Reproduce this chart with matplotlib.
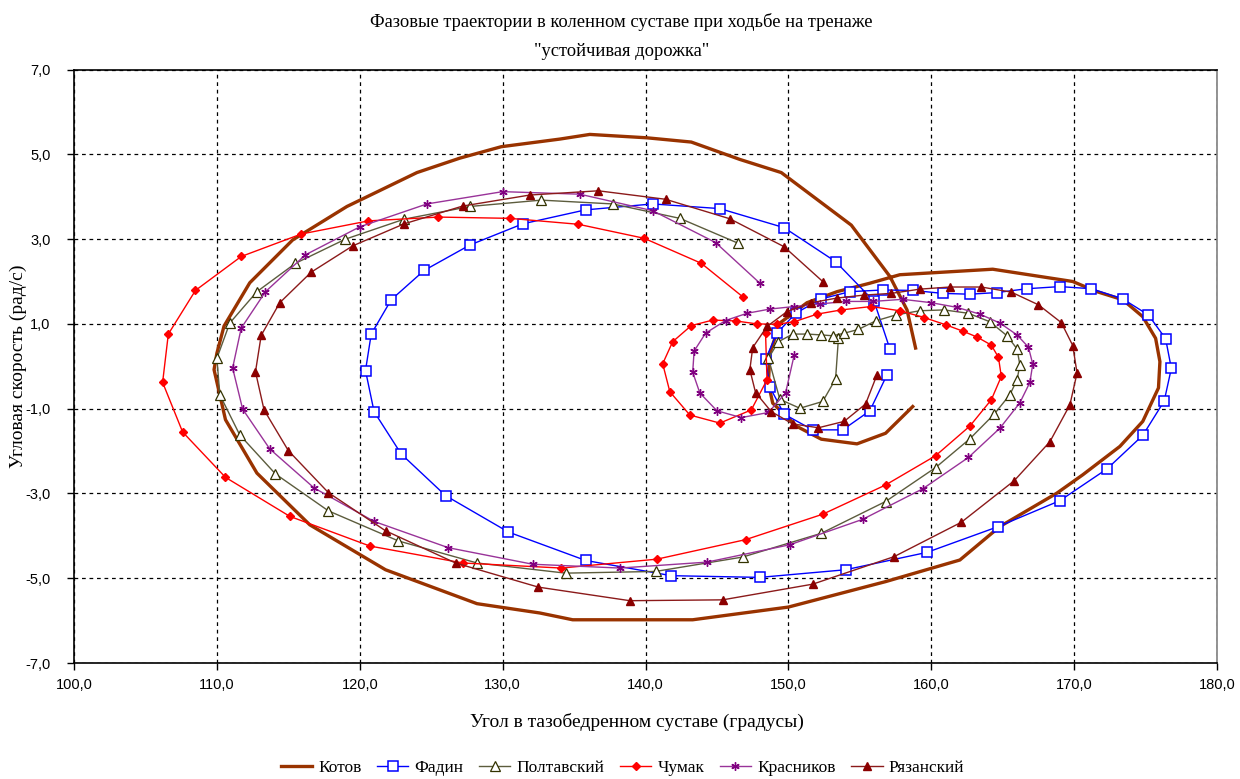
"""
Фазовые траектории в коленном суставе (угол бедра / угловая скорость колена)
"""
import matplotlib
matplotlib.use('Agg')
import matplotlib.pyplot as plt
from matplotlib.ticker import FuncFormatter

# --- данные (угол, градусы / скорость, рад/с) ---
kotov_x = [158.7, 156.8, 154.8, 152.3, 150.6, 148.9, 148.6, 148.7, 149.4, 151.3, 153.4, 155.7,
           157.8, 164.3, 169.9, 171.6, 173.4, 174.8, 175.7, 176.0, 175.9, 174.8, 173.2, 170.6,
           168.8, 164.8, 162.0, 156.8, 150.0, 143.3, 134.9, 132.6, 128.2, 121.8, 116.5, 112.8,
           110.6, 109.8, 110.0, 110.5, 112.3, 115.3, 119.1, 124.0, 127.0, 129.9, 134.0, 136.1,
           140.1, 143.2, 146.6, 149.5, 154.4, 157.1, 158.3, 158.9]
kotov_y = [-0.95, -1.58, -1.83, -1.72, -1.42, -0.87, -0.40, 0.30, 1.02, 1.50, 1.76, 1.96,
           2.16, 2.29, 2.00, 1.76, 1.57, 1.17, 0.66, 0.11, -0.51, -1.30, -1.89, -2.56,
           -2.99, -3.78, -4.57, -5.08, -5.68, -5.98, -5.98, -5.82, -5.60, -4.80, -3.74, -2.52,
           -1.26, -0.08, 0.31, 0.95, 1.97, 2.98, 3.77, 4.57, 4.91, 5.18, 5.36, 5.47,
           5.39, 5.29, 4.88, 4.57, 3.33, 2.12, 1.33, 0.43]

fadin_x = [156.9, 155.7, 153.8, 151.7, 149.7, 148.7, 148.4, 149.2, 150.5, 152.3, 154.3, 156.6,
           158.7, 160.8, 162.7, 164.6, 166.7, 169.0, 171.2, 173.4, 175.2, 176.4, 176.8, 176.3,
           174.8, 172.3, 169.0, 164.7, 159.7, 154.0, 148.0, 141.8, 135.8, 130.4, 126.0, 122.9,
           121.0, 120.4, 120.8, 122.2, 124.5, 127.7, 131.4, 135.8, 140.5, 145.2, 149.7, 153.3,
           156.0, 157.1]
fadin_y = [-0.20, -1.05, -1.50, -1.50, -1.13, -0.49, 0.17, 0.78, 1.25, 1.59, 1.76, 1.80,
           1.79, 1.72, 1.70, 1.74, 1.83, 1.88, 1.83, 1.59, 1.21, 0.65, -0.05, -0.82,
           -1.63, -2.42, -3.17, -3.78, -4.39, -4.80, -4.98, -4.94, -4.58, -3.91, -3.05, -2.07,
           -1.07, -0.10, 0.76, 1.57, 2.26, 2.86, 3.36, 3.69, 3.83, 3.72, 3.27, 2.47,
           1.53, 0.41]

poltavsky_x = [153.5, 153.3, 152.4, 150.8, 149.4, 148.6, 149.3, 150.3, 151.3, 152.3, 153.1, 153.9,
               154.9, 156.1, 157.5, 159.2, 160.9, 162.6, 164.1, 165.3, 166.0, 166.2, 166.0, 165.5,
               164.4, 162.7, 160.3, 156.8, 152.3, 146.8, 140.7, 134.4, 128.2, 122.7, 117.8, 114.1,
               111.6, 110.2, 110.0, 110.9, 112.8, 115.5, 119.0, 123.1, 127.7, 132.7, 137.7, 142.4,
               146.5]
poltavsky_y = [0.66, -0.30, -0.83, -0.99, -0.78, 0.19, 0.58, 0.76, 0.76, 0.74, 0.72, 0.78,
               0.87, 1.07, 1.21, 1.31, 1.33, 1.25, 1.05, 0.72, 0.41, 0.03, -0.32, -0.67,
               -1.13, -1.71, -2.39, -3.19, -3.94, -4.50, -4.84, -4.88, -4.64, -4.12, -3.41, -2.54,
               -1.62, -0.67, 0.19, 1.02, 1.76, 2.43, 3.00, 3.47, 3.77, 3.92, 3.83, 3.49,
               2.90]

chumak_x = [148.4, 148.5, 147.4, 145.2, 143.1, 141.7, 141.2, 141.9, 143.2, 144.7, 146.3, 147.8,
            149.2, 150.4, 152.0, 153.7, 155.8, 157.8, 159.5, 161.0, 162.2, 163.2, 164.2, 164.7,
            164.9, 164.2, 162.7, 160.3, 156.8, 152.4, 147.0, 140.8, 134.1, 127.2, 120.7, 115.1,
            110.6, 107.6, 106.2, 106.6, 108.5, 111.7, 115.9, 120.6, 125.5, 130.5, 135.3, 139.9,
            143.9, 146.8]
chumak_y = [0.78, -0.32, -1.03, -1.34, -1.15, -0.60, 0.06, 0.58, 0.96, 1.09, 1.07, 1.00,
            0.99, 1.05, 1.23, 1.33, 1.41, 1.31, 1.15, 0.98, 0.83, 0.69, 0.50, 0.21,
            -0.24, -0.79, -1.41, -2.11, -2.80, -3.49, -4.09, -4.55, -4.76, -4.64, -4.24, -3.54,
            -2.62, -1.55, -0.38, 0.76, 1.79, 2.59, 3.12, 3.43, 3.52, 3.49, 3.35, 3.02,
            2.43, 1.64]

krasnikov_x = [150.4, 149.8, 148.6, 146.7, 145.0, 143.8, 143.3, 143.4, 144.2, 145.6, 147.1, 148.7,
               150.4, 152.2, 154.0, 155.9, 158.0, 160.0, 161.8, 163.4, 164.8, 166.0, 166.8, 167.1,
               166.9, 166.2, 164.8, 162.6, 159.4, 155.2, 150.1, 144.3, 138.2, 132.1, 126.2, 121.0,
               116.8, 113.7, 111.8, 111.1, 111.7, 113.4, 116.2, 120.0, 124.7, 130.0, 135.4, 140.5,
               144.9, 148.0]
krasnikov_y = [0.26, -0.63, -1.09, -1.21, -1.05, -0.63, -0.14, 0.36, 0.78, 1.08, 1.25, 1.35,
               1.41, 1.47, 1.53, 1.53, 1.58, 1.50, 1.39, 1.23, 1.02, 0.74, 0.45, 0.05,
               -0.38, -0.86, -1.46, -2.15, -2.89, -3.61, -4.21, -4.62, -4.76, -4.67, -4.28, -3.66,
               -2.87, -1.95, -1.01, -0.04, 0.90, 1.76, 2.63, 3.29, 3.83, 4.12, 4.06, 3.67,
               2.92, 1.96]

ryazansky_x = [156.2, 155.4, 153.9, 152.1, 150.3, 148.8, 147.7, 147.3, 147.5, 148.5, 149.9, 151.6,
               153.4, 155.3, 157.2, 159.2, 161.3, 163.5, 165.6, 167.5, 169.1, 169.9, 170.2, 169.7,
               168.3, 165.8, 162.1, 157.4, 151.7, 145.4, 138.9, 132.5, 126.7, 121.8, 117.8, 115.0,
               113.3, 112.7, 113.1, 114.4, 116.6, 119.5, 123.1, 127.2, 131.9, 136.7, 141.4, 145.9,
               149.7, 152.4]
ryazansky_y = [-0.20, -0.89, -1.30, -1.45, -1.36, -1.07, -0.62, -0.08, 0.44, 0.94, 1.29, 1.50,
               1.61, 1.68, 1.72, 1.82, 1.87, 1.87, 1.75, 1.45, 1.03, 0.49, -0.16, -0.91,
               -1.78, -2.70, -3.68, -4.49, -5.14, -5.51, -5.53, -5.21, -4.64, -3.88, -2.98, -1.99,
               -1.03, -0.13, 0.73, 1.50, 2.22, 2.84, 3.36, 3.78, 4.04, 4.14, 3.94, 3.48,
               2.82, 2.00]

names = ['Котов', 'Фадин', 'Полтавский', 'Чумак', 'Красников', 'Рязанский']
series = [(kotov_x, kotov_y), (fadin_x, fadin_y), (poltavsky_x, poltavsky_y),
          (chumak_x, chumak_y), (krasnikov_x, krasnikov_y), (ryazansky_x, ryazansky_y)]

# стиль линий в духе Excel
styles = [
    dict(color='#993300', lw=2.4, marker=None),
    dict(color='#0000FF', lw=1.0, marker='s', ms=6.5, mfc='white', mec='#0000FF', mew=1.1),
    dict(color='#5c5c3d', lw=1.0, marker='^', ms=6.5, mfc='white', mec='#333300', mew=0.9),
    dict(color='#FF0000', lw=1.0, marker='D', ms=4.2, mfc='#FF0000', mec='#FF0000'),
    dict(color='#993399', lw=1.0, marker=(6, 2, 0), ms=6, mfc='#800080', mec='#800080', mew=1.0),
    dict(color='#8B1A1A', lw=1.0, marker='^', ms=6, mfc='#8B0000', mec='#8B0000'),
]

serif = ['Liberation Serif', 'DejaVu Serif']
sans = ['Liberation Sans', 'DejaVu Sans']

fig = plt.figure(figsize=(12.4, 7.79), dpi=100)
ax = fig.add_axes([0.0597, 0.1489, 0.9218, 0.7618])

for (xs, ys), name, st in zip(series, names, styles):
    ax.plot(xs, ys, label=name, **st)

ax.set_xlim(100, 180)
ax.set_ylim(-7, 7)
ax.set_xticks(range(100, 181, 10))
ax.set_yticks(range(-7, 8, 2))
fmt = FuncFormatter(lambda v, p: f'{v:.1f}'.replace('.', ','))
ax.xaxis.set_major_formatter(fmt)
ax.yaxis.set_major_formatter(fmt)
ax.tick_params(axis='x', direction='out', length=5, width=1, labelsize=10.5, pad=6)
ax.tick_params(axis='y', direction='out', length=5, width=1, labelsize=10.5, pad=12)
for lab in ax.get_xticklabels() + ax.get_yticklabels():
    lab.set_family(sans)

ax.grid(True, color='black', linestyle=(0, (3, 3)), linewidth=0.9)
ax.set_axisbelow(True)
for side in ['top', 'left', 'bottom']:
    ax.spines[side].set_color('black')
    ax.spines[side].set_linewidth(1.2)
ax.spines['right'].set_color('#808080')
ax.spines['right'].set_linewidth(1.2)

fig.text(0.501, 0.972, 'Фазовые траектории в коленном суставе при ходьбе на тренаже',
         ha='center', va='center', fontsize=13.3, family=serif)
fig.text(0.501, 0.934, '"устойчивая дорожка"',
         ha='center', va='center', fontsize=13.3, family=serif)
fig.text(0.514, 0.073, 'Угол в тазобедренном суставе (градусы)',
         ha='center', va='center', fontsize=14, family=serif)
fig.text(0.015, 0.53, 'Угловая скорость (рад/с)', rotation=90,
         ha='center', va='center', fontsize=14, family=serif)

leg = fig.legend(loc='center', bbox_to_anchor=(0.502, 0.014), ncol=6, frameon=False,
                 prop={'family': serif, 'size': 12.5}, handlelength=1.8,
                 handletextpad=0.35, columnspacing=0.9)

fig.savefig('out.png', dpi=100)
